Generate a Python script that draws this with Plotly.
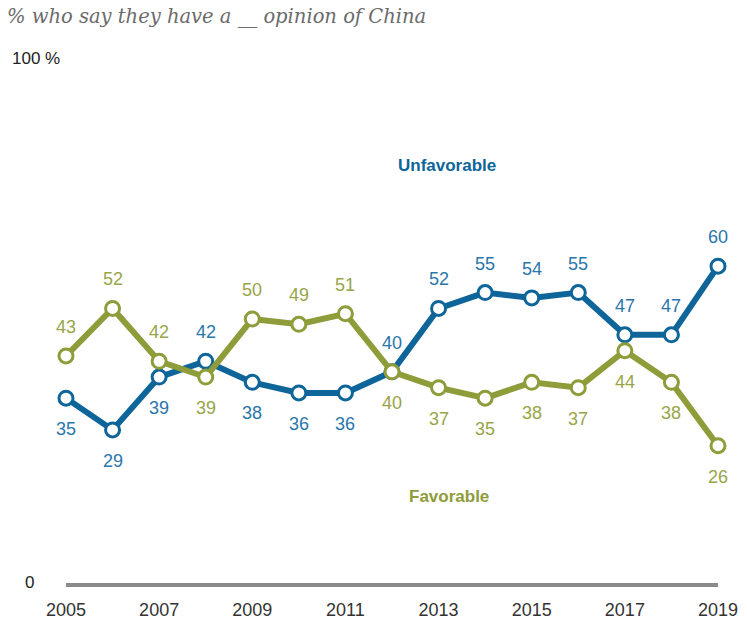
import plotly.graph_objects as go

years = list(range(2005, 2020))
unfavorable = [35, 29, 39, 42, 38, 36, 36, 40, 52, 55, 54, 55, 47, 47, 60]
favorable = [43, 52, 42, 39, 50, 49, 51, 40, 37, 35, 38, 37, 44, 38, 26]
# label placement: 1 = above, -1 = below
unfav_pos = [-1, -1, -1, 1, -1, -1, -1, 1, 1, 1, 1, 1, 1, 1, 1]
fav_pos = [1, 1, 1, -1, 1, 1, 1, -1, -1, -1, -1, -1, -1, -1, -1]
tick_years = [2005, 2007, 2009, 2011, 2013, 2015, 2017, 2019]

BLUE = "#0d6599"
GREEN = "#8e9c3a"
BLUE_TXT = "#2a76aa"
GREEN_TXT = "#98a548"
LABEL_FONT = "Liberation Sans, Arial, sans-serif"

W, H = 747, 622
# plot area in screen pixels: x 66..718, y 55..583
ML, MT = 66, 55
MR = W - 718
MB = H - 583

fig = go.Figure()
for vals, col in [(unfavorable, BLUE), (favorable, GREEN)]:
    fig.add_trace(go.Scatter(
        x=years, y=vals, mode="lines+markers",
        line=dict(color=col, width=6),
        marker=dict(size=14, color="white", line=dict(color=col, width=3)),
        cliponaxis=False, hoverinfo="skip", showlegend=False))

ann = []
for vals, pos, col in [(unfavorable, unfav_pos, BLUE_TXT), (favorable, fav_pos, GREEN_TXT)]:
    for x, v, p in zip(years, vals, pos):
        ann.append(dict(x=x, y=v, xref="x", yref="y", text=str(v), showarrow=False,
                        yshift=29 if p > 0 else -31,
                        font=dict(family=LABEL_FONT, size=18, color=col)))

ann.append(dict(x=2013.18, y=79, xref="x", yref="y", text="<b>Unfavorable</b>", showarrow=False,
                font=dict(family=LABEL_FONT, size=17, color=BLUE)))
ann.append(dict(x=2013.22, y=16.3, xref="x", yref="y", text="<b>Favorable</b>", showarrow=False,
                font=dict(family=LABEL_FONT, size=17, color=GREEN)))

pw, ph = W - ML - MR, H - MT - MB
def px(xs):
    return (xs - ML) / pw
def py(ys):
    return (H - MB - ys) / ph

ann.append(dict(x=px(5), y=py(17), xref="paper", yref="paper", xanchor="left", yanchor="middle",
                text="<i>% who say they have a __ opinion of China</i>", showarrow=False,
                font=dict(family="DejaVu Serif, Georgia, serif", size=19.5, color="#6b6b6b")))
ann.append(dict(x=px(10), y=py(58), xref="paper", yref="paper", xanchor="left", yanchor="middle",
                text="100 %", showarrow=False,
                font=dict(family=LABEL_FONT, size=17, color="#222222")))
ann.append(dict(x=px(23), y=py(582), xref="paper", yref="paper", xanchor="left", yanchor="middle",
                text="0", showarrow=False,
                font=dict(family=LABEL_FONT, size=17, color="#222222")))

fig.update_layout(
    width=W, height=H,
    margin=dict(l=ML, r=MR, t=MT, b=MB, autoexpand=False),
    plot_bgcolor="white", paper_bgcolor="white",
    xaxis=dict(range=[2005, 2019], tickvals=tick_years, ticktext=[str(t) for t in tick_years],
               showgrid=False, zeroline=False, showline=True, linecolor="#8a8a8a", linewidth=4,
               ticks="outside", ticklen=7, tickcolor="rgba(0,0,0,0)", automargin=False,
               tickfont=dict(family=LABEL_FONT, size=18, color="#333333")),
    yaxis=dict(range=[0, 100], showgrid=False, zeroline=False, showticklabels=False,
               showline=False, automargin=False),
    annotations=ann,
)

fig.write_html("out.html", config={"displayModeBar": False},
               post_script="document.body.style.margin='0';document.body.style.overflow='hidden';")
